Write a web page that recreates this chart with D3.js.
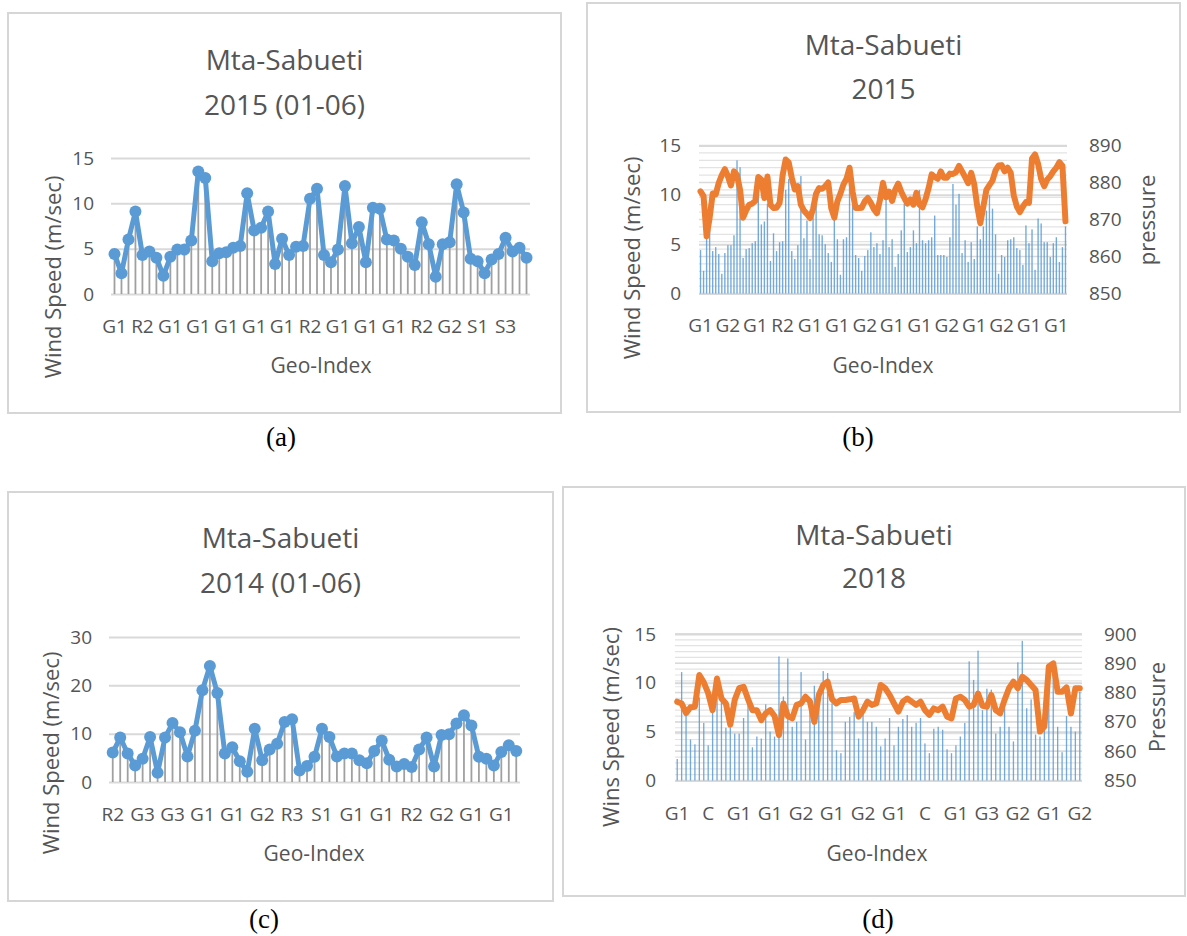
<!DOCTYPE html>
<html>
<head>
<meta charset="utf-8">
<script src="https://cdn.jsdelivr.net/npm/d3@7"></script>
<style>
  body { margin: 0; background: #fff; }
  svg { display: block; }
</style>
</head>
<body>
<script>
// ---- data ----
// (a) 2015 (01-06), wind speed, one label every 4 points
var labelsA = ["G1", "R2", "G1", "G1", "G1", "G1", "G1", "R2", "G1", "G1", "G1", "R2", "G2", "S1", "S3"];
var speedA = [4.4, 2.3, 6.0, 9.1, 4.3, 4.7, 4.0, 2.0, 4.1, 4.9,
  4.9, 5.9, 13.5, 12.8, 3.6, 4.5, 4.6, 5.1, 5.3, 11.1,
  7.0, 7.3, 9.1, 3.3, 6.1, 4.3, 5.2, 5.3, 10.5, 11.6,
  4.3, 3.5, 4.9, 11.9, 5.6, 7.4, 3.5, 9.5, 9.4, 6.0,
  5.9, 5.0, 4.1, 3.2, 7.9, 5.5, 1.9, 5.5, 5.7, 12.1,
  9.0, 3.9, 3.6, 2.3, 3.8, 4.4, 6.2, 4.7, 5.1, 4.0];

// (b) 2015, wind speed (bars) + pressure (line), one label every 9 points
var labelsB = ["G1", "G2", "G1", "R2", "G1", "G1", "G2", "G1", "G1", "G2", "G1", "G2", "G1", "G1"];
var speedB = [4.4, 2.3, 6.0, 9.1, 4.3, 4.7, 4.0, 2.0, 4.1, 4.9,
  4.9, 5.9, 13.5, 12.8, 3.6, 4.5, 4.6, 5.1, 5.3, 11.1,
  7.0, 7.3, 9.1, 3.3, 6.1, 4.3, 5.2, 5.3, 10.5, 11.6,
  4.3, 3.5, 4.9, 11.9, 5.6, 7.4, 3.5, 9.5, 9.4, 6.0,
  5.9, 5.0, 4.1, 3.2, 7.9, 5.5, 1.9, 5.5, 5.7, 12.1,
  9.0, 3.9, 3.6, 2.3, 3.8, 4.4, 6.2, 4.7, 5.1, 4.0,
  5.4, 9.8, 4.7, 5.5, 2.7, 4.0, 6.4, 9.1, 4.2, 4.7,
  6.4, 5.1, 10.5, 5.4, 5.1, 5.4, 5.7, 7.9, 3.9, 3.9,
  3.9, 3.7, 5.7, 11.1, 9.0, 10.1, 4.1, 5.4, 3.2, 5.2,
  3.5, 6.8, 5.5, 6.8, 8.4, 10.0, 8.6, 6.0, 2.0, 3.9,
  3.7, 5.4, 5.5, 5.7, 4.6, 4.4, 2.9, 6.9, 5.1, 6.5,
  2.4, 7.6, 7.1, 5.2, 5.2, 3.7, 5.1, 5.7, 3.2, 4.7,
  6.8];
var pressureB = [877.6, 876.3, 865.5, 870.5, 877, 876.8, 879.9, 882, 883.6, 881.7,
  879.2, 883, 882, 878, 870.5, 872.5, 874, 874.3, 875, 881.5,
  880.8, 875.8, 881.6, 874, 873.1, 873.2, 874.5, 882, 886.2, 885.4,
  881.3, 878.1, 879, 874, 872.4, 871.5, 870.4, 872.8, 877, 878.5,
  878.3, 879, 880, 873, 870.5, 874.9, 877, 879.5, 881, 884,
  877.5, 873.1, 873.1, 873.2, 874.9, 875.8, 874.5, 872.8, 871.7, 875.3,
  879.9, 876, 877.5, 875, 878, 879.7, 877.5, 875.8, 874.3, 875.4,
  874, 877.2, 874, 873.3, 875.5, 878.5, 882.2, 881.5, 881, 883,
  881.3, 881.3, 882.4, 882.3, 882.8, 884.5, 883, 881.5, 879.8, 882.6,
  879.5, 873.5, 869, 873.5, 878, 879.3, 880.5, 883.3, 884.6, 884.7,
  883, 884, 882.6, 876.5, 873.5, 872, 873.5, 874.7, 874.5, 886.5,
  887.6, 885, 881, 879, 880.8, 881.7, 883, 884, 885.5, 884.5,
  869.5];

// (c) 2014 (01-06), wind speed, one label every 4 points
var labelsC = ["R2", "G3", "G3", "G1", "G1", "G2", "R3", "S1", "G1", "G1", "R2", "G2", "G1", "G1"];
var speedC = [6.1, 9.2, 5.9, 3.4, 4.8, 9.3, 1.9, 9.2, 12.2, 10.3,
  5.3, 10.6, 19.0, 24.0, 18.4, 5.9, 7.2, 4.3, 2.1, 11.0,
  4.5, 6.7, 7.9, 12.4, 13.0, 2.4, 3.3, 5.2, 11.0, 9.3,
  5.3, 5.9, 5.9, 4.5, 3.9, 6.4, 8.6, 4.6, 3.2, 3.7,
  3.1, 6.7, 9.2, 3.2, 9.7, 9.9, 12.1, 13.8, 11.7, 5.2,
  4.8, 3.4, 6.2, 7.6, 6.4];

// (d) 2018, wind speed (bars) + pressure (line), one label every 7 points
var labelsD = ["G1", "C", "G1", "G1", "G2", "G1", "G2", "G1", "C", "G1", "G3", "G2", "G1", "G2"];
var speedD = [2.2, 11.1, 7.0, 4.2, 3.7, 8.5, 5.9, 3.6, 7.6, 9.8,
  8.3, 5.4, 5.4, 4.8, 4.8, 6.4, 7.9, 3.4, 4.5, 4.3,
  7.8, 5.0, 4.5, 12.7, 8.6, 12.5, 5.5, 6.0, 11.1, 4.2,
  8.1, 9.7, 9.3, 11.2, 11.0, 7.9, 3.1, 2.8, 6.0, 6.5,
  7.0, 4.3, 7.1, 6.0, 6.0, 5.5, 3.5, 4.3, 6.4, 3.6,
  5.5, 6.3, 6.7, 5.5, 5.9, 6.4, 3.8, 2.8, 5.3, 5.5,
  5.2, 3.2, 2.8, 3.6, 4.5, 5.9, 12.2, 10.3, 13.3, 7.2,
  9.4, 9.3, 4.8, 5.5, 7.4, 5.5, 4.0, 12.1, 14.3, 7.4,
  8.3, 4.7, 4.5, 8.0, 11.7, 12.1, 5.5, 2.9, 6.6, 5.5,
  5.0, 9.1];
var pressureD = [876.9, 876.3, 873, 875, 875.2, 886, 883.5, 879.8, 874, 884.8,
  878, 876.3, 869, 877.5, 881.5, 882, 877.8, 874, 874, 870.6,
  872.9, 874, 872, 865.5, 876.3, 872, 871.2, 875.8, 876.3, 878.6,
  877, 870, 879.2, 882.6, 883.7, 877.7, 876.3, 877.5, 877.5, 877.7,
  878, 871.8, 874, 876.9, 875.8, 876.3, 882.6, 881.5, 879.2, 876.3,
  873.5, 876.9, 878, 876.9, 875.8, 876.9, 874, 872.4, 874.6, 874,
  875.2, 871.8, 871.2, 878, 878.6, 877.5, 875.2, 875.8, 879.7, 875.5,
  875.2, 879.2, 874, 872.9, 877.5, 881.5, 883.7, 881.5, 885.4, 884.3,
  882.6, 880.9, 866.7, 868.4, 888.9, 890, 880.3, 880.3, 881.8, 872.9,
  881.5, 881.5];

// ---- styles ----
var BLUE = "#5b9bd5", ORANGE = "#ed7d31", TXT = "#555", GRID = "#d9d9d9";
var FONT = "'Open Sans', sans-serif";
var TICK_SIZE = "19px";

var svg = d3.select("body").append("svg")
  .attr("width", 1187)
  .attr("height", 936);

function drawPanel(p) {
  var g = svg.append("g");
  var n = p.speed.length;

  // chart area border
  g.append("rect")
    .attr("x", p.box[0]).attr("y", p.box[1])
    .attr("width", p.box[2] - p.box[0]).attr("height", p.box[3] - p.box[1])
    .attr("fill", "#fff").attr("stroke", "#d6d6d6").attr("stroke-width", 2);

  // title, two lines
  var cx = (p.box[0] + p.box[2]) / 2;
  p.title.forEach(function (t, i) {
    g.append("text").text(t)
      .attr("x", cx).attr("y", p.titleY[i])
      .attr("text-anchor", "middle")
      .style("font-family", FONT).style("font-size", "28px").attr("fill", TXT);
  });

  var x = d3.scaleBand().domain(d3.range(n)).range([p.plot.l, p.plot.r]);
  var y = d3.scaleLinear().domain(p.yDomain).range([p.plot.b, p.plot.t]);
  var w = p.plot.r - p.plot.l;

  // right axis scale (pressure) if there is one
  var y2 = null;
  if (p.pressure) {
    y2 = d3.scaleLinear().domain(p.y2Domain).range([p.plot.b, p.plot.t]);
    // minor gridlines of the pressure axis
    g.append("g")
      .selectAll("line")
      .data(d3.range(p.y2Domain[0], p.y2Domain[1] + 0.01, 2))
      .join("line")
      .attr("x1", p.plot.l).attr("x2", p.plot.r)
      .attr("y1", d => y2(d)).attr("y2", d => y2(d))
      .attr("stroke", "#e3e3e3").attr("stroke-width", 1.2);
    g.append("g")
      .selectAll("line")
      .data(d3.range(p.y2Domain[0], p.y2Domain[1] + 0.01, 10))
      .join("line")
      .attr("x1", p.plot.l).attr("x2", p.plot.r)
      .attr("y1", d => y2(d)).attr("y2", d => y2(d))
      .attr("stroke", GRID).attr("stroke-width", 1.5);
  }

  // left axis with gridlines
  var yAxis = g.append("g")
    .attr("transform", "translate(" + p.plot.l + ",0)")
    .call(d3.axisLeft(y).tickValues(p.yTicks).tickSize(-w).tickPadding(p.yPad));
  yAxis.select(".domain").remove();
  yAxis.selectAll("line").attr("stroke", GRID).attr("stroke-width", 2);
  yAxis.selectAll("text")
    .style("font-family", FONT).style("font-size", TICK_SIZE).attr("fill", TXT);

  if (p.pressure) {
    var y2Axis = g.append("g")
      .attr("transform", "translate(" + p.plot.r + ",0)")
      .call(d3.axisRight(y2).tickValues(d3.range(p.y2Domain[0], p.y2Domain[1] + 1, 10)).tickSize(0).tickPadding(p.y2Pad));
    y2Axis.select(".domain").remove();
    y2Axis.selectAll("text")
      .style("font-family", FONT).style("font-size", TICK_SIZE).attr("fill", TXT);

    // thin columns for wind speed
    var bw = x.bandwidth() * p.barFrac;
    g.append("g")
      .selectAll("rect")
      .data(p.speed)
      .join("rect")
      .attr("x", (d, i) => x(i) + (x.bandwidth() - bw) / 2)
      .attr("y", d => y(d))
      .attr("width", bw)
      .attr("height", d => y(0) - y(d))
      .attr("fill", BLUE)
      .attr("opacity", 0.85);

    // pressure line
    var pline = d3.line()
      .x((d, i) => x(i) + x.bandwidth() / 2)
      .y(d => y2(d));
    g.append("path")
      .attr("d", pline(p.pressure))
      .attr("fill", "none")
      .attr("stroke", ORANGE)
      .attr("stroke-width", 6)
      .attr("stroke-linejoin", "round")
      .attr("stroke-linecap", "round");
  } else {
    // drop lines
    g.append("g")
      .selectAll("line")
      .data(p.speed)
      .join("line")
      .attr("x1", (d, i) => x(i) + x.bandwidth() / 2)
      .attr("x2", (d, i) => x(i) + x.bandwidth() / 2)
      .attr("y1", y(0))
      .attr("y2", d => y(d))
      .attr("stroke", "#a0a0a0")
      .attr("stroke-width", 1.8);

    var line = d3.line()
      .x((d, i) => x(i) + x.bandwidth() / 2)
      .y(d => y(d));
    g.append("path")
      .attr("d", line(p.speed))
      .attr("fill", "none")
      .attr("stroke", BLUE)
      .attr("stroke-width", 5)
      .attr("stroke-linejoin", "round");

    g.append("g")
      .selectAll("circle")
      .data(p.speed)
      .join("circle")
      .attr("cx", (d, i) => x(i) + x.bandwidth() / 2)
      .attr("cy", d => y(d))
      .attr("r", 6)
      .attr("fill", BLUE);
  }

  // category labels, only every k-th category is labelled
  var tickIdx = p.labels.map((_, i) => i * p.step);
  var xAxis = g.append("g")
    .attr("transform", "translate(0," + p.plot.b + ")")
    .call(d3.axisBottom(x).tickValues(tickIdx).tickSize(0)
      .tickPadding(p.xLabelY - p.plot.b - 13.5)
      .tickFormat(i => p.labels[i / p.step]));
  xAxis.select(".domain").remove();
  xAxis.selectAll("text")
    .style("font-family", FONT).style("font-size", TICK_SIZE).attr("fill", TXT);

  // axis titles
  g.append("text").text(p.yTitle)
    .attr("transform", "translate(" + p.yTitlePos[0] + "," + p.yTitlePos[1] + ") rotate(-90)")
    .attr("text-anchor", "middle")
    .style("font-family", FONT).style("font-size", "22px").attr("fill", TXT);
  if (p.y2Title) {
    g.append("text").text(p.y2Title)
      .attr("transform", "translate(" + p.y2TitlePos[0] + "," + p.y2TitlePos[1] + ") rotate(-90)")
      .attr("text-anchor", "middle")
      .style("font-family", FONT).style("font-size", "22px").attr("fill", TXT);
  }
  g.append("text").text("Geo-Index")
    .attr("x", p.xTitlePos[0]).attr("y", p.xTitlePos[1])
    .attr("text-anchor", "middle")
    .style("font-family", FONT).style("font-size", "21px").attr("fill", TXT);

  // caption under the panel
  g.append("text").text(p.caption)
    .attr("x", p.captionPos[0]).attr("y", p.captionPos[1])
    .attr("text-anchor", "middle")
    .style("font-family", "'Liberation Serif', 'Times New Roman', serif")
    .style("font-size", "27px").attr("fill", "#000");
}

drawPanel({
  box: [8, 13, 561, 413],
  plot: { l: 111, r: 530, t: 158, b: 294 },
  title: ["Mta-Sabueti", "2015 (01-06)"], titleY: [70, 115],
  speed: speedA, labels: labelsA, step: 4,
  yDomain: [0, 15], yTicks: [0, 5, 10, 15], yPad: 17,
  xLabelY: 333,
  yTitle: "Wind Speed (m/sec)", yTitlePos: [61, 277],
  xTitlePos: [321, 373],
  caption: "(a)", captionPos: [281, 446]
});

drawPanel({
  box: [587, 3, 1180, 412],
  plot: { l: 699, r: 1067, t: 145.5, b: 293.5 },
  title: ["Mta-Sabueti", "2015"], titleY: [55, 99],
  speed: speedB, pressure: pressureB, barFrac: 0.45, labels: labelsB, step: 9,
  yDomain: [0, 15], yTicks: [0, 5, 10, 15], yPad: 18,
  y2Domain: [850, 890], y2Pad: 22,
  xLabelY: 332,
  yTitle: "Wind Speed (m/sec)", yTitlePos: [640, 258],
  y2Title: "pressure", y2TitlePos: [1155, 220],
  xTitlePos: [883, 373],
  caption: "(b)", captionPos: [858, 446]
});

drawPanel({
  box: [8, 492, 553, 901],
  plot: { l: 109, r: 520, t: 637, b: 782 },
  title: ["Mta-Sabueti", "2014 (01-06)"], titleY: [548, 593],
  speed: speedC, labels: labelsC, step: 4,
  yDomain: [0, 30], yTicks: [0, 10, 20, 30], yPad: 17,
  xLabelY: 821,
  yTitle: "Wind Speed (m/sec)", yTitlePos: [59, 753],
  xTitlePos: [314, 861],
  caption: "(c)", captionPos: [264, 928]
});

drawPanel({
  box: [563, 487, 1185, 896],
  plot: { l: 675, r: 1082, t: 634, b: 780.5 },
  title: ["Mta-Sabueti", "2018"], titleY: [545, 588],
  speed: speedD, pressure: pressureD, barFrac: 0.3, labels: labelsD, step: 7,
  yDomain: [0, 15], yTicks: [0, 5, 10, 15], yPad: 19,
  y2Domain: [850, 900], y2Pad: 22,
  xLabelY: 820,
  yTitle: "Wins Speed (m/sec)", yTitlePos: [619, 727],
  y2Title: "Pressure", y2TitlePos: [1165, 707],
  xTitlePos: [877, 861],
  caption: "(d)", captionPos: [878, 928]
});
</script>
</body>
</html>
